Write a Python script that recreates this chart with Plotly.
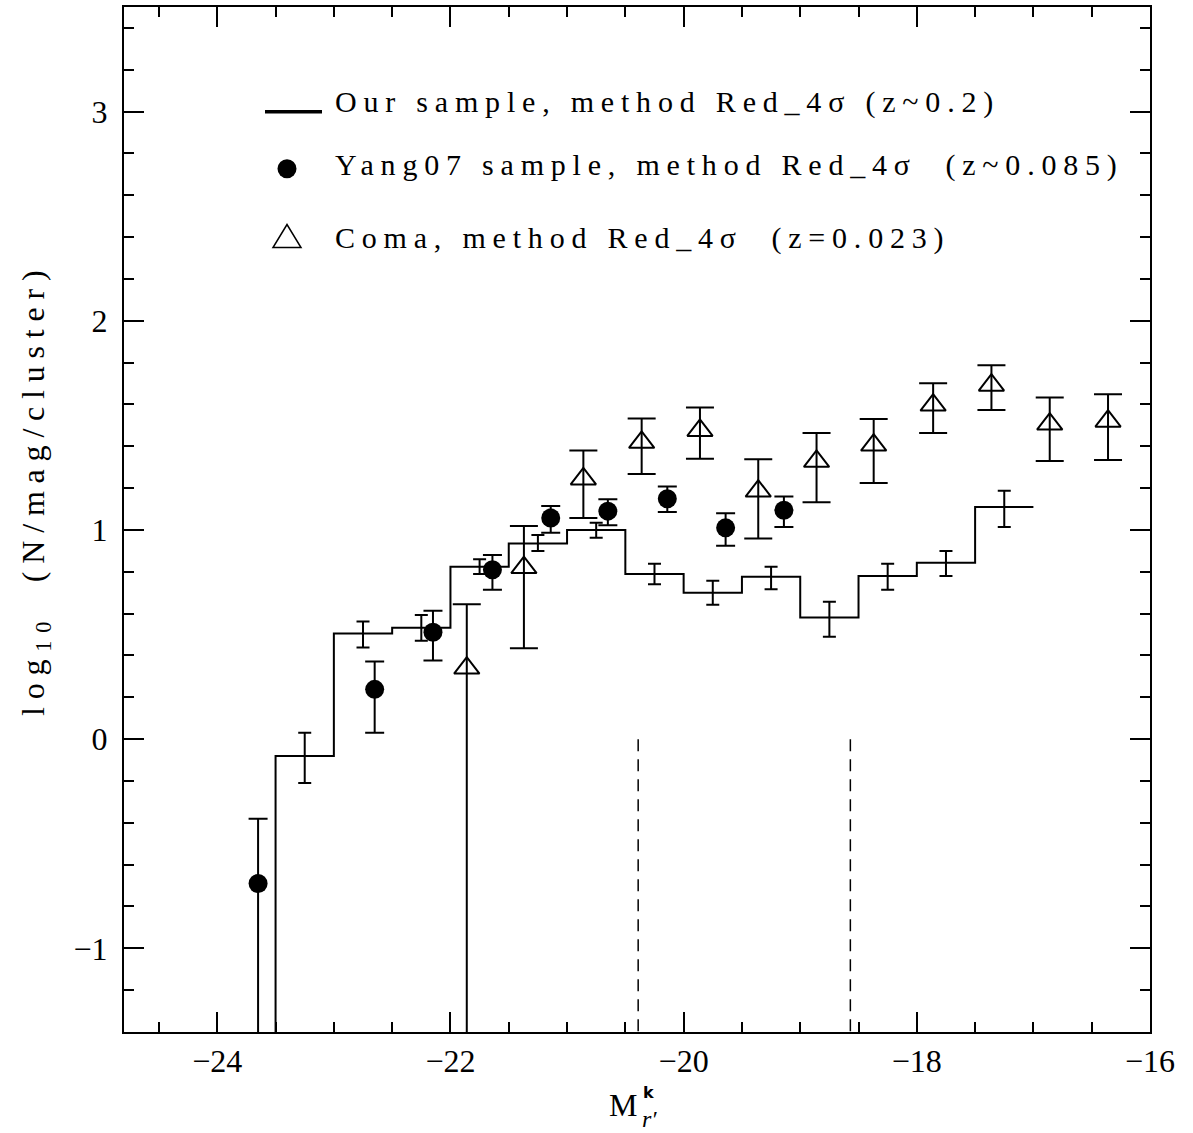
import plotly.graph_objects as go

# ---------------- data ----------------
hist_edges = [-23.5, -23.0, -22.5, -22.0, -21.5, -21.0, -20.5, -20.0, -19.5, -19.0, -18.5, -18.0, -17.5, -17.0]
hist_vals = [-0.08, 0.505, 0.533, 0.824, 0.935, 1.0, 0.79, 0.70, 0.776, 0.581, 0.78, 0.843, 1.11]
hist_hi = [0.03, 0.562, 0.594, 0.86, 0.976, 1.035, 0.838, 0.757, 0.824, 0.657, 0.838, 0.90, 1.187]
hist_lo = [-0.21, 0.438, 0.47, 0.79, 0.90, 0.963, 0.74, 0.643, 0.716, 0.49, 0.714, 0.78, 1.014]
hist_floor = -2.0

yang_x = [-23.65, -22.65, -22.15, -21.64, -21.14, -20.65, -20.14, -19.64, -19.14]
yang_y = [-0.69, 0.238, 0.511, 0.81, 1.057, 1.09, 1.149, 1.01, 1.094]
yang_hi = [-0.38, 0.371, 0.614, 0.88, 1.114, 1.147, 1.208, 1.08, 1.16]
yang_lo = [-2.5, 0.03, 0.376, 0.714, 0.987, 1.023, 1.086, 0.924, 1.014]

coma_x = [-21.86, -21.37, -20.86, -20.36, -19.86, -19.36, -18.86, -18.37, -17.86, -17.36, -16.86, -16.36]
coma_y = [0.34, 0.82, 1.244, 1.419, 1.476, 1.186, 1.328, 1.406, 1.597, 1.692, 1.506, 1.52]
coma_hi = [0.645, 1.019, 1.38, 1.533, 1.586, 1.338, 1.463, 1.53, 1.701, 1.787, 1.633, 1.649]
coma_lo = [-2.5, 0.435, 1.057, 1.268, 1.34, 0.959, 1.133, 1.224, 1.463, 1.573, 1.33, 1.335]

dashed_x = [-20.39, -18.57]
dashed_top = 0.0

x_range = [-24.8, -16.0]
y_range = [-1.4, 3.5]

legend_labels = [
    "Our sample, method Red_4σ (z~0.2)",
    "Yang07 sample, method Red_4σ  (z~0.085)",
    "Coma, method Red_4σ  (z=0.023)",
]
y_title = "log<sub>10</sub>  (N/mag/cluster)"

# ---------------- figure ----------------
FONT = "Liberation Serif, Times New Roman, serif"
fig = go.Figure()

# histogram step line
hx = [hist_edges[0]] + hist_edges
hy = [hist_floor] + hist_vals + [hist_vals[-1]]
fig.add_trace(go.Scatter(x=hx, y=hy, mode="lines", line=dict(color="black", width=2, shape="hv"),
                         showlegend=False, hoverinfo="skip"))
centers = [(hist_edges[i] + hist_edges[i + 1]) / 2 for i in range(len(hist_vals))]
fig.add_trace(go.Scatter(
    x=centers, y=hist_vals, mode="markers",
    marker=dict(size=1, color="rgba(0,0,0,0)"),
    error_y=dict(type="data", symmetric=False,
                 array=[h - v for h, v in zip(hist_hi, hist_vals)],
                 arrayminus=[v - l for v, l in zip(hist_vals, hist_lo)],
                 width=6.5, thickness=2, color="black"),
    showlegend=False))

# Yang07
fig.add_trace(go.Scatter(
    x=yang_x, y=yang_y, mode="markers",
    marker=dict(symbol="circle", size=19, color="black"),
    error_y=dict(type="data", symmetric=False,
                 array=[h - v for h, v in zip(yang_hi, yang_y)],
                 arrayminus=[v - l for v, l in zip(yang_y, yang_lo)],
                 width=9.5, thickness=2, color="black"),
    showlegend=False))

# Coma
fig.add_trace(go.Scatter(
    x=coma_x, y=coma_y, mode="markers",
    marker=dict(symbol="triangle-up-open", size=22, color="black", line=dict(width=2, color="black")),
    error_y=dict(type="data", symmetric=False,
                 array=[h - v for h, v in zip(coma_hi, coma_y)],
                 arrayminus=[v - l for v, l in zip(coma_y, coma_lo)],
                 width=14, thickness=2, color="black"),
    showlegend=False))

# dashed vertical lines
for xd in dashed_x:
    fig.add_trace(go.Scatter(x=[xd, xd], y=[dashed_top, y_range[0]], mode="lines",
                             line=dict(color="black", width=1.5, dash="12px,8px"),
                             showlegend=False, hoverinfo="skip"))

# ---------------- layout ----------------
L, R, T, B = 124, 43, 5, 101
W, H = 1193, 1133
PW, PH = W - L - R, H - T - B


def px_x(p):
    return (p - L) / PW


def px_y(p):
    return (H - B - p) / PH


axis_common = dict(showline=True, linewidth=2, linecolor="black", mirror="allticks",
                   ticks="inside", ticklen=20, tickwidth=2, tickcolor="black",
                   showgrid=False, zeroline=False,
                   tickfont=dict(family=FONT, size=32, color="black"))

fig.update_xaxes(range=x_range, tick0=-24, dtick=2, ticklabelstandoff=0,
                 minor=dict(dtick=0.5, tick0=-24, ticks="inside", ticklen=10, tickwidth=2, tickcolor="black"),
                 **axis_common)
fig.update_yaxes(range=y_range, tick0=0, dtick=1, ticklabelstandoff=8,
                 minor=dict(dtick=0.2, tick0=0, ticks="inside", ticklen=10, tickwidth=2, tickcolor="black"),
                 **axis_common)

SP = "letter-spacing:6.8px"
annotations = []
# legend text
leg_y = [100, 163, 236]
for lab, yy in zip(legend_labels, leg_y):
    annotations.append(dict(xref="paper", yref="paper", x=px_x(333), y=px_y(yy), xanchor="left", yanchor="middle",
                            text=f'<span style="{SP}">{lab}</span>', showarrow=False,
                            font=dict(family=FONT, size=30, color="black")))
# y title
annotations.append(dict(xref="paper", yref="paper", x=px_x(35), y=px_y(488), xanchor="center", yanchor="middle",
                        text=f'<span style="letter-spacing:7.8px">{y_title}</span>', textangle=-90, showarrow=False,
                        font=dict(family=FONT, size=32, color="black")))
# x title  M^k_{r'}
annotations.append(dict(xref="paper", yref="paper", x=px_x(639), y=px_y(1105), xanchor="right", yanchor="middle",
                        text="M", showarrow=False, font=dict(family=FONT, size=32, color="black")))
annotations.append(dict(xref="paper", yref="paper", x=px_x(641), y=px_y(1093), xanchor="left", yanchor="middle",
                        text="<b>k</b>", showarrow=False, font=dict(family="DejaVu Sans", size=16, color="black")))
annotations.append(dict(xref="paper", yref="paper", x=px_x(640), y=px_y(1119), xanchor="left", yanchor="middle",
                        text="<i>r′</i>", showarrow=False, font=dict(family=FONT, size=24, color="black")))

shapes = [
    # legend line
    dict(type="line", xref="paper", yref="paper", x0=px_x(265), x1=px_x(322), y0=px_y(110), y1=px_y(110),
         line=dict(color="black", width=3.5)),
    # legend filled circle
    dict(type="circle", xref="paper", yref="paper", xsizemode="pixel", ysizemode="pixel",
         xanchor=px_x(287), yanchor=px_y(167), x0=-9.5, x1=9.5, y0=-9.5, y1=9.5,
         fillcolor="black", line=dict(color="black", width=0)),
    # legend open triangle
    dict(type="path", xref="paper", yref="paper", xsizemode="pixel", ysizemode="pixel",
         xanchor=px_x(287), yanchor=px_y(236),
         path="M -14,-10 L 14,-10 L 0,13 Z", line=dict(color="black", width=1.5)),
]

fig.update_layout(width=W, height=H, margin=dict(l=L, r=R, t=T, b=B, pad=0),
                  plot_bgcolor="white", paper_bgcolor="white",
                  annotations=annotations, shapes=shapes, showlegend=False)

fig.write_html("out.html")
